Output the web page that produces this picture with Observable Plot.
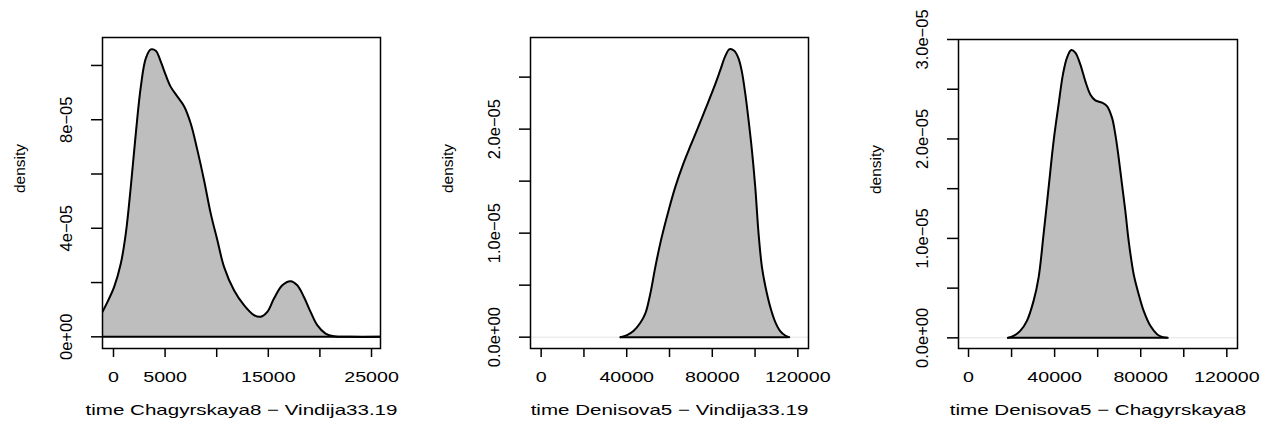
<!DOCTYPE html>
<html><head><meta charset="utf-8">
<script src="https://cdn.jsdelivr.net/npm/d3@7"></script>
<script src="https://cdn.jsdelivr.net/npm/@observablehq/plot@0.6"></script>
<style>
body{margin:0;background:#fff;}
#wrap{position:relative;width:1271px;height:424px;overflow:hidden;background:#fff;}
#wrap > svg{position:absolute;top:0;}
</style></head><body><div id="wrap"></div>
<script>
// ---- Panel 1: time Chagyrskaya8 − Vindija33.19
const p1Time = [-1065, -581, 65, 710, 1194, 1677, 2161, 2645, 3129, 3613, 4097, 4581, 5065, 5548, 6194, 6839, 7484, 8129, 8774, 9419, 10065, 10710, 11677, 12645, 13613, 14258, 14903, 15548, 16355, 17161, 17806, 18452, 19097, 19742, 20548, 21355, 22968, 25871];
const p1Density = [9.2e-6, 1.29e-5, 1.84e-5, 2.70e-5, 3.81e-5, 5.53e-5, 7.49e-5, 9.21e-5, 1.026e-4, 1.059e-4, 1.054e-4, 1.014e-4, 9.64e-5, 9.21e-5, 8.85e-5, 8.50e-5, 7.86e-5, 6.88e-5, 5.77e-5, 4.55e-5, 3.56e-5, 2.58e-5, 1.72e-5, 1.17e-5, 8.0e-6, 7.4e-6, 9.2e-6, 1.41e-5, 1.90e-5, 2.05e-5, 1.90e-5, 1.47e-5, 9.2e-6, 4.3e-6, 1.2e-6, 2e-7, 0, 0];
const p1XTicks = [0, 5000, 10000, 15000, 20000, 25000];
const p1XTickLabels = ["0", "5000", "", "15000", "", "25000"];
const p1YTicks = [0, 2e-5, 4e-5, 6e-5, 8e-5, 1e-4];
const p1YTickLabels = ["0e+00", "", "4e\u221205", "", "8e\u221205", ""];
const p1Title = "time Chagyrskaya8 \u2212 Vindija33.19";

// ---- Panel 2: time Denisova5 − Vindija33.19
const p2Time = [37042, 40155, 43268, 46381, 48715, 51050, 53385, 56030, 59610, 62723, 66614, 69727, 72840, 76731, 80623, 83736, 86070, 88092, 90270, 92290, 93850, 95410, 96960, 98520, 100080, 101630, 103190, 104740, 107080, 109410, 111750, 114080, 115950];
const p2Density = [0, 1.9e-7, 6.1e-7, 1.38e-6, 2.28e-6, 4.20e-6, 6.76e-6, 9.33e-6, 1.221e-5, 1.445e-5, 1.676e-5, 1.836e-5, 1.990e-5, 2.189e-5, 2.391e-5, 2.567e-5, 2.702e-5, 2.769e-5, 2.753e-5, 2.679e-5, 2.551e-5, 2.343e-5, 2.086e-5, 1.798e-5, 1.445e-5, 9.97e-6, 6.76e-6, 4.97e-6, 2.92e-6, 1.47e-6, 5.8e-7, 1.6e-7, 0];
const p2XTicks = [0, 20000, 40000, 60000, 80000, 100000, 120000];
const p2XTickLabels = ["0", "", "40000", "", "80000", "", "120000"];
const p2YTicks = [0, 5e-6, 1e-5, 1.5e-5, 2e-5, 2.5e-5];
const p2YTickLabels = ["0.0e+00", "", "1.0e\u221205", "", "2.0e\u221205", ""];
const p2Title = "time Denisova5 \u2212 Vindija33.19";

// ---- Panel 3: time Denisova5 − Chagyrskaya8
const p3Time = [18290, 20925, 24025, 27125, 30225, 32550, 34875, 37200, 39525, 41850, 43865, 45725, 47740, 49600, 51925, 54250, 56575, 58900, 62000, 64325, 66650, 68200, 69750, 71300, 72850, 74400, 76725, 79050, 81375, 84475, 87575, 89900, 92535];
const p3Density = [0, 2.0e-7, 7.0e-7, 1.71e-6, 3.72e-6, 6.06e-6, 1.042e-5, 1.51e-5, 1.979e-5, 2.348e-5, 2.649e-5, 2.816e-5, 2.894e-5, 2.867e-5, 2.750e-5, 2.582e-5, 2.448e-5, 2.388e-5, 2.365e-5, 2.331e-5, 2.214e-5, 2.046e-5, 1.812e-5, 1.544e-5, 1.276e-5, 9.75e-6, 6.40e-6, 4.39e-6, 2.71e-6, 1.21e-6, 3.7e-7, 1.0e-7, 0];
const p3XTicks = [0, 20000, 40000, 60000, 80000, 100000, 120000];
const p3XTickLabels = ["0", "", "40000", "", "80000", "", "120000"];
const p3YTicks = [0, 5e-6, 1e-5, 1.5e-5, 2e-5, 2.5e-5, 3e-5];
const p3YTickLabels = ["0.0e+00", "", "1.0e\u221205", "", "2.0e\u221205", "", "3.0e\u221205"];
const p3Title = "time Denisova5 \u2212 Chagyrskaya8";

const yLabel = "density";
const FONT = "'Liberation Sans', Arial, Helvetica, sans-serif";

function widen(svg, title) {
  for (const el of svg.querySelectorAll("text")) {
    const t = el.getAttribute("transform") || "";
    if (t.includes("rotate")) continue;
    const sx = el.textContent === title ? 1.37 : 1.31;
    const xa = el.getAttribute("x");
    let pre = t;
    if (xa != null && !isNaN(+xa) && +xa !== 0) { pre += ` translate(${+xa},0)`; el.setAttribute("x", 0); }
    el.setAttribute("transform", `${pre} scale(${sx},1)`);
  }
}

function panel(cfg) {
  const {time, dens, xDomain, yDomain, xTicks, xTickLabels, yTicks, yTickLabels, title, left, width, mL, mR, mT, mB} = cfg;
  const data = time.map((t, i) => ({t, d: dens[i]}));
  const xl = new Map(xTicks.map((v, i) => [v, xTickLabels[i]]));
  const yl = new Map(yTicks.map((v, i) => [v, yTickLabels[i]]));
  const svg = Plot.plot({
    width, height: 424,
    marginLeft: mL, marginRight: mR, marginTop: mT, marginBottom: mB,
    style: {fontFamily: FONT, fontSize: "15px", color: "#000", background: "#fff", overflow: "visible"},
    x: {domain: xDomain, label: null},
    y: {domain: yDomain, label: null},
    marks: [
      Plot.ruleY([0], {stroke: "#e4e4e4", strokeWidth: 1}),
      Plot.areaY(data, {x: "t", y: "d", fill: "#bebebe", curve: "catmull-rom", clip: true}),
      Plot.ruleY([0], {x1: time[0], x2: time[time.length - 1], stroke: "#000", strokeWidth: 2, clip: true}),
      Plot.line(data, {x: "t", y: "d", stroke: "#000", strokeWidth: 2, curve: "catmull-rom", clip: true}),
      Plot.frame({stroke: "#000", strokeWidth: 1.5}),
      Plot.axisX(xTicks, {tickSize: 9, tickPadding: 14, tickFormat: d => xl.get(d), fontSize: 15, strokeWidth: 1.5, label: null}),
      Plot.axisY(yTicks, {tickSize: 11, tickPadding: 20, tickRotate: -90, tickFormat: d => yl.get(d), fontSize: 16.5, strokeWidth: 1.5, label: null}),
      Plot.text([title], {frameAnchor: "bottom", dy: 56, lineAnchor: "top", fontSize: 15, fill: "#000"}),
      Plot.text([yLabel], {frameAnchor: "left", dx: -82, rotate: -90, fontSize: 15.5, fill: "#000"})
    ]
  });
  svg.style.left = left + "px";
  document.getElementById("wrap").appendChild(svg);
  widen(svg, title);
}

panel({time: p1Time, dens: p1Density, xDomain: [-1065, 25871], yDomain: [-4.3e-6, 1.103e-4],
  xTicks: p1XTicks, xTickLabels: p1XTickLabels, yTicks: p1YTicks, yTickLabels: p1YTickLabels, title: p1Title,
  left: 0, width: 424, mL: 102, mR: 44, mT: 37, mB: 76});
panel({time: p2Time, dens: p2Density, xDomain: [-4980, 124979], yDomain: [-1.09e-6, 2.881e-5],
  xTicks: p2XTicks, xTickLabels: p2XTickLabels, yTicks: p2YTicks, yTickLabels: p2YTickLabels, title: p2Title,
  left: 424, width: 424, mL: 106, mR: 40, mT: 37, mB: 76});
panel({time: p3Time, dens: p3Density, xDomain: [-4657, 124960], yDomain: [-1.07e-6, 3.0e-5],
  xTicks: p3XTicks, xTickLabels: p3XTickLabels, yTicks: p3YTicks, yTickLabels: p3YTickLabels, title: p3Title,
  left: 848, width: 423, mL: 110, mR: 34, mT: 39, mB: 76});
</script>
</body></html>
